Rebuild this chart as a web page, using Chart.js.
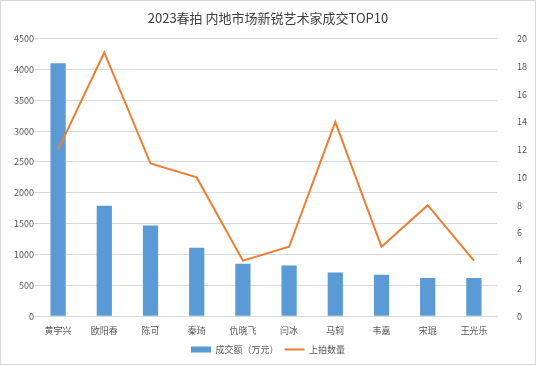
<!DOCTYPE html>
<html>
<head>
<meta charset="utf-8">
<script src="https://cdn.jsdelivr.net/npm/chart.js@4"></script>
<style>
  html, body { margin: 0; padding: 0; background: #fff; }
  #wrap { position: relative; width: 534px; height: 363px; border: 1px solid #d9d9d9; }
</style>
</head>
<body>
<div id="wrap"><canvas id="c"></canvas></div>
<script>
const artists = ['黄宇兴', '欧阳春', '陈可', '秦琦', '仇晓飞', '闫冰', '马轲', '韦嘉', '宋琨', '王光乐'];
const turnover = [4100, 1790, 1470, 1110, 850, 820, 710, 670, 620, 620];
const lots = [12, 19, 11, 10, 4, 5, 14, 5, 8, 4];

const FONT = '"Noto Sans CJK SC", "Noto Sans", sans-serif';
const TXT = '#595959';

new Chart(document.getElementById('c'), {
  type: 'bar',
  data: {
    labels: artists,
    datasets: [
      { label: '成交额（万元）', data: turnover, backgroundColor: '#5B9BD5', yAxisID: 'y', order: 2,
        categoryPercentage: 1, barPercentage: 0.33, pointStyle: 'rect' },
      { label: '上拍数量', type: 'line', data: lots, borderColor: '#ED7D31', backgroundColor: '#ED7D31',
        borderWidth: 2, pointRadius: 0, tension: 0, yAxisID: 'y1', order: 1, pointStyle: 'line' }
    ]
  },
  options: {
    responsive: true,
    maintainAspectRatio: false,
    animation: false,
    layout: { padding: { left: 0, right: 0, top: 4, bottom: 0 } },
    plugins: {
      title: { display: true, text: '2023春拍 内地市场新锐艺术家成交TOP10', color: '#404040',
        font: { family: FONT, size: 13, weight: 'normal' }, padding: { top: 5, bottom: 13 } },
      legend: { position: 'bottom',
        labels: { color: TXT, font: { family: FONT, size: 9 }, usePointStyle: true, pointStyleWidth: 20,
          boxHeight: 6, padding: 6, sort: (a, b) => a.datasetIndex - b.datasetIndex } },
      tooltip: { enabled: false }
    },
    scales: {
      x: {
        grid: { display: false },
        border: { color: '#d9d9d9' },
        ticks: { color: TXT, font: { family: FONT, size: 9 }, maxRotation: 0, padding: 1 },
        afterFit: a => { a.height += 2; }
      },
      y: {
        min: 0, max: 4500,
        ticks: { stepSize: 500, color: TXT, font: { family: FONT, size: 9 }, padding: 1, callback: v => String(v) },
        grid: { color: '#d9d9d9', drawTicks: false },
        border: { display: false },
        afterFit: a => { a.width = 34; }
      },
      y1: {
        position: 'right', min: 0, max: 20,
        ticks: { stepSize: 2, color: TXT, font: { family: FONT, size: 9 }, padding: 12 },
        grid: { display: false },
        border: { display: false },
        afterFit: a => { a.width = 38; }
      }
    }
  }
});
</script>
</body>
</html>
